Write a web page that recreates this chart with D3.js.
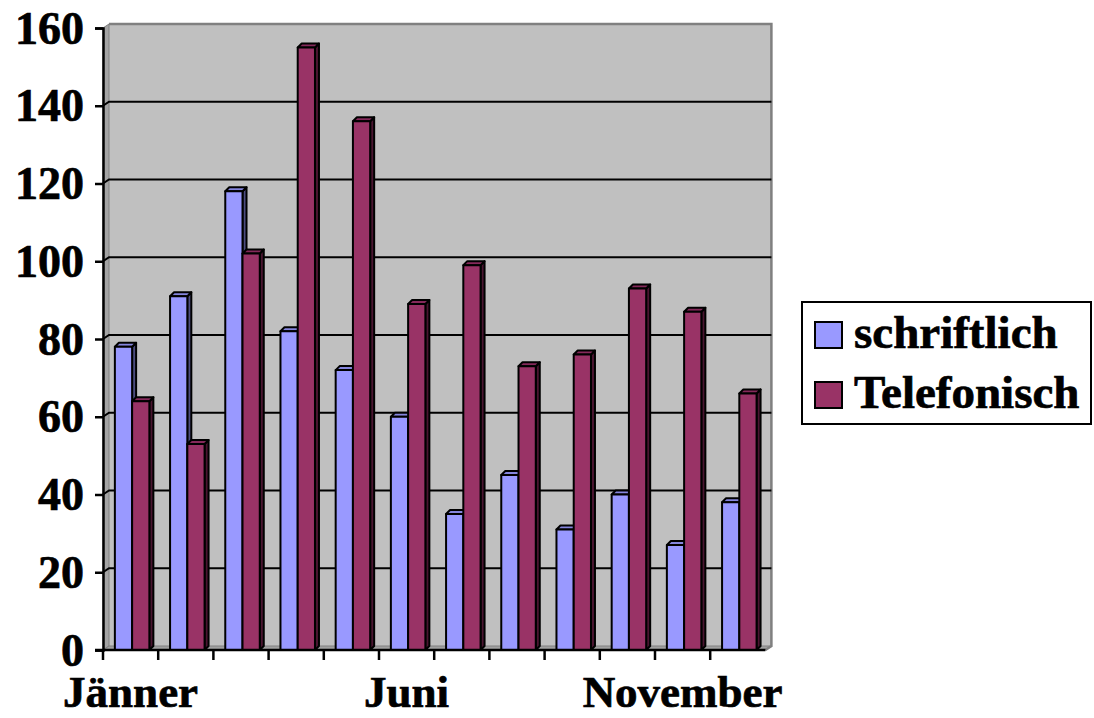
<!DOCTYPE html>
<html>
<head>
<meta charset="utf-8">
<script src="https://cdn.jsdelivr.net/npm/d3@7"></script>
<style>
  html, body { margin: 0; padding: 0; background: #ffffff; }
  svg { display: block; }
  text { font-family: "Liberation Serif", "DejaVu Serif", serif; font-weight: bold; fill: #000; stroke: #000; stroke-width: 0.7px; }
</style>
</head>
<body>
<svg id="chart" width="1094" height="718"></svg>
<script>
// Monthly counts of inquiries, by channel
const months = ["Jänner", "Februar", "März", "April", "Mai", "Juni",
                "Juli", "August", "September", "Oktober", "November", "Dezember"];
const shownMonths = ["Jänner", "Juni", "November"];
const seriesNames = ["schriftlich", "Telefonisch"];
const schriftlich = [78, 91, 118, 82, 72, 60, 35, 45, 31, 40, 27, 38];
const telefonisch = [64, 53, 102, 155, 136, 89, 99, 73, 76, 93, 87, 66];
const yTicks = [0, 20, 40, 60, 80, 100, 120, 140, 160];

const seriesValues = [schriftlich, telefonisch];
const frontColors = ["#9999ff", "#993366"];
const topColors = ["#8585dd", "#85295a"];
const sideColors = ["#4d4d80", "#4a1530"];

const svg = d3.select("#chart");

const plot = { left: 103, right: 765.4, top: 28, bottom: 650 };
const depth = { dx: 6, dy: 4 };     // back wall offset
const barDepth = { dx: 4, dy: 4 };  // column depth

const y = d3.scaleLinear().domain([0, 160]).range([plot.bottom, plot.top]);
const x = d3.scaleBand().domain(months).range([plot.left, plot.right]).padding(0);
const bw = x.bandwidth();
const xs = d3.scaleBand().domain(seriesNames).range([bw * 0.215, bw * 0.84]).padding(0);

// back wall
svg.append("rect")
  .attr("x", plot.left + depth.dx).attr("y", plot.top - depth.dy)
  .attr("width", plot.right - plot.left).attr("height", plot.bottom - plot.top)
  .attr("fill", "#c0c0c0");

// left side wall
svg.append("polygon")
  .attr("points", [
    [plot.left, plot.top], [plot.left + depth.dx, plot.top - depth.dy],
    [plot.left + depth.dx, plot.bottom - depth.dy], [plot.left, plot.bottom]
  ].map(p => p.join(",")).join(" "))
  .attr("fill", "#a4a4a4").attr("stroke", "#808080").attr("stroke-width", 1);

// floor
svg.append("polygon")
  .attr("points", [
    [plot.left, plot.bottom], [plot.left + depth.dx, plot.bottom - depth.dy],
    [plot.right + depth.dx, plot.bottom - depth.dy], [plot.right, plot.bottom]
  ].map(p => p.join(",")).join(" "))
  .attr("fill", "#a0a0a0").attr("stroke", "#808080").attr("stroke-width", 1);

// wall border (top and right)
svg.append("path")
  .attr("d", `M${plot.left + depth.dx},${plot.top - depth.dy}H${plot.right + depth.dx}V${plot.bottom - depth.dy}L${plot.right},${plot.bottom}`)
  .attr("fill", "none").attr("stroke", "#808080").attr("stroke-width", 2.5);

// gridlines across side wall and back wall
const grid = svg.append("g");
yTicks.filter(v => v > 0 && v < 160).forEach(v => {
  const yy = y(v);
  grid.append("path")
    .attr("d", `M${plot.left},${yy}L${plot.left + depth.dx},${yy - depth.dy}H${plot.right + depth.dx}`)
    .attr("fill", "none").attr("stroke", "#000").attr("stroke-width", 2);
});

// columns
const bars = svg.append("g");
months.forEach((m, mi) => {
  seriesNames.forEach((s, si) => {
    const v = seriesValues[si][mi];
    const x0 = x(m) + xs(s);
    const w = xs.bandwidth();
    const yt = y(v), yb = y(0);
    const g = bars.append("g")
      .attr("stroke", "#000").attr("stroke-width", 2).attr("stroke-linejoin", "round");
    // side face
    g.append("polygon")
      .attr("points", [[x0 + w, yt], [x0 + w + barDepth.dx, yt - barDepth.dy],
                       [x0 + w + barDepth.dx, yb - barDepth.dy], [x0 + w, yb]]
        .map(p => p.join(",")).join(" "))
      .attr("fill", sideColors[si]);
    // top face
    g.append("polygon")
      .attr("points", [[x0, yt], [x0 + barDepth.dx, yt - barDepth.dy],
                       [x0 + w + barDepth.dx, yt - barDepth.dy], [x0 + w, yt]]
        .map(p => p.join(",")).join(" "))
      .attr("fill", topColors[si]);
    // front face
    g.append("rect")
      .attr("x", x0).attr("y", yt).attr("width", w).attr("height", yb - yt)
      .attr("fill", frontColors[si]);
  });
});

// value axis
const yAxis = d3.axisLeft(y).tickValues(yTicks).tickSize(8).tickPadding(11).tickFormat(d3.format("d"));
const yg = svg.append("g").attr("transform", `translate(${plot.left},0)`).call(yAxis);
yg.select(".domain").attr("stroke", "#000").attr("stroke-width", 2.5);
yg.selectAll(".tick line").attr("stroke", "#000").attr("stroke-width", 2.5);
yg.selectAll(".tick text")
  .attr("font-family", "'Liberation Serif', 'DejaVu Serif', serif")
  .attr("font-weight", "bold").attr("font-size", 46).attr("dy", "0.33em").attr("fill", "#000");

// category axis: line, boundary ticks, labels
svg.append("line")
  .attr("x1", plot.left - 8).attr("x2", plot.right).attr("y1", plot.bottom).attr("y2", plot.bottom)
  .attr("stroke", "#000").attr("stroke-width", 2.5);
svg.append("g").selectAll("line").data(months).join("line")
  .attr("x1", d => x(d)).attr("x2", d => x(d))
  .attr("y1", plot.bottom).attr("y2", plot.bottom + 10)
  .attr("stroke", "#000").attr("stroke-width", 2.5);
svg.append("g").selectAll("text").data(shownMonths).join("text")
  .attr("x", d => x(d) + bw / 2).attr("y", 707)
  .attr("text-anchor", "middle").attr("font-size", 45)
  .text(d => d);

// legend
const legend = svg.append("g");
legend.append("rect")
  .attr("x", 802).attr("y", 302).attr("width", 289).attr("height", 122)
  .attr("fill", "#fff").attr("stroke", "#000").attr("stroke-width", 2);
seriesNames.forEach((s, i) => {
  const ly = 322 + i * 60;
  legend.append("rect")
    .attr("x", 815).attr("y", ly).attr("width", 27).attr("height", 26)
    .attr("fill", frontColors[i]).attr("stroke", "#000").attr("stroke-width", 2);
  legend.append("text")
    .attr("x", 854).attr("y", ly + 26).attr("font-size", 47)
    .text(s);
});
</script>
</body>
</html>
